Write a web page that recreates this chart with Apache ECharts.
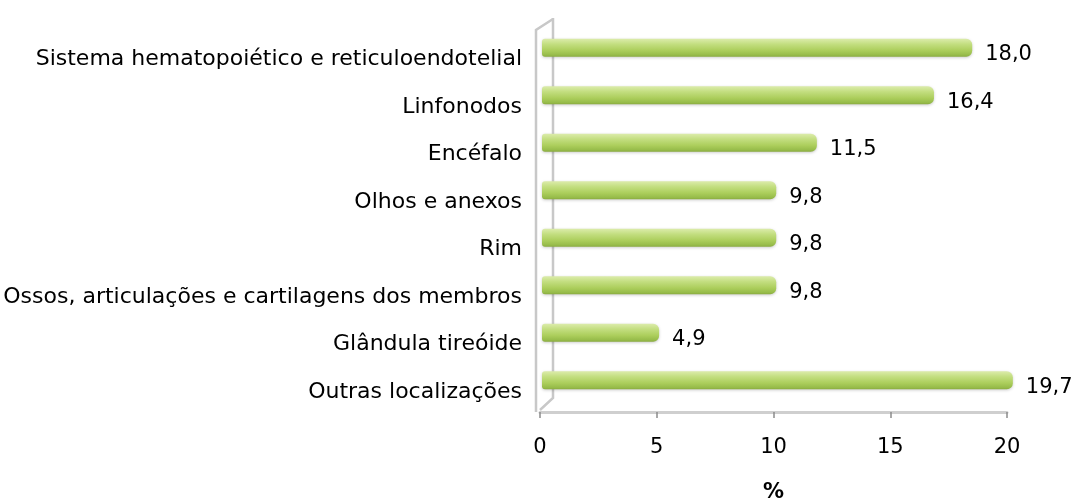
<!DOCTYPE html>
<html>
<head>
<meta charset="utf-8">
<script src="https://cdn.jsdelivr.net/npm/echarts@6/dist/echarts.min.js"></script>
<style>
  html, body { margin: 0; padding: 0; background: #fff; }
  #chart { width: 1074px; height: 499px; }
</style>
</head>
<body>
<div id="chart"></div>
<script>
var categories = [
  'Sistema hematopoiético e reticuloendotelial',
  'Linfonodos',
  'Encéfalo',
  'Olhos e anexos',
  'Rim',
  'Ossos, articulações e cartilagens dos membros',
  'Glândula tireóide',
  'Outras localizações'
]
var values = [18.0, 16.4, 11.5, 9.8, 9.8, 9.8, 4.9, 19.7]
var xTicks = [0, 5, 10, 15, 20]

// front plane (axes) and back plane (bars) of the fake 3d box
var front = { left: 540, top: 32, width: 467, height: 380 }
var back = { left: 542, top: 24, width: 478, height: 380 }
var labelShift = 4

var chart = echarts.init(document.getElementById('chart'))
var font = 'DejaVu Sans'
var fontSize = 21

function gridOf(r, dy) {
  return { left: r.left, top: r.top + (dy || 0), width: r.width, height: r.height, outerBoundsMode: 'none', containLabel: false }
}

var option = {
  animation: false,
  textStyle: { fontFamily: font },
  grid: [gridOf(front), gridOf(back), gridOf(front, labelShift)],
  xAxis: [
    {
      gridIndex: 0,
      type: 'value',
      min: xTicks[0],
      max: xTicks[xTicks.length - 1],
      interval: 5,
      name: '%',
      nameLocation: 'middle',
      nameGap: 70,
      nameTextStyle: { fontSize: fontSize, fontWeight: 'bold', color: '#000', fontFamily: font },
      axisLine: { show: true, lineStyle: { color: '#cfcfcf', width: 3 } },
      axisTick: { show: true, length: 6, lineStyle: { color: '#8c8c8c', width: 1.5 } },
      axisLabel: { fontSize: fontSize, color: '#000', margin: 25, fontFamily: font },
      splitLine: { show: false }
    },
    { gridIndex: 1, type: 'value', min: xTicks[0], max: xTicks[xTicks.length - 1], show: false },
    { gridIndex: 2, type: 'value', min: xTicks[0], max: xTicks[xTicks.length - 1], show: false }
  ],
  yAxis: [
    { gridIndex: 0, type: 'category', inverse: true, data: categories, show: false },
    { gridIndex: 1, type: 'category', inverse: true, data: categories, show: false },
    {
      gridIndex: 2,
      type: 'category',
      inverse: true,
      data: categories,
      axisLine: { show: false },
      axisTick: { show: false },
      axisLabel: { fontSize: 22, color: '#000', margin: 18, fontFamily: font }
    }
  ],
  series: [
    {
      type: 'bar',
      xAxisIndex: 1,
      yAxisIndex: 1,
      z: 5,
      data: values,
      barWidth: 18,
      itemStyle: {
        borderRadius: [3, 6, 6, 3],
        color: new echarts.graphic.LinearGradient(0, 0, 0, 1, [
          { offset: 0, color: '#dcecab' },
          { offset: 0.3, color: '#c3de80' },
          { offset: 0.65, color: '#acce5c' },
          { offset: 0.9, color: '#97bc4a' },
          { offset: 1, color: '#8aab40' }
        ]),
        shadowColor: 'rgba(0,0,0,0.2)',
        shadowBlur: 3,
        shadowOffsetY: 1
      },
      label: {
        show: true,
        position: 'right',
        distance: 13,
        fontSize: fontSize,
        fontFamily: font,
        color: '#000',
        offset: [0, 7],
        formatter: function (p) {
          return p.value.toFixed(1).replace('.', ',')
        }
      }
    }
  ]
}
chart.setOption(option)

// side wall of the 3d box
var x0 = chart.convertToPixel({ xAxisIndex: 0 }, 0)
var yTop = front.top
var yBot = front.top + front.height
var wall = { color: '#c8c8c8', width: 2.5 }
chart.setOption({
  graphic: [
    {
      type: 'polyline',
      z: 0,
      shape: { points: [[x0 - 4, yBot], [x0 - 4, yTop - 2], [x0 + 13, yTop - 13]] },
      style: { stroke: wall.color, lineWidth: wall.width, fill: null }
    },
    {
      type: 'polyline',
      z: 0,
      shape: { points: [[x0 + 13, yTop - 14], [x0 + 13, yBot - 14], [x0, yBot - 2]] },
      style: { stroke: wall.color, lineWidth: wall.width, fill: null }
    }
  ]
})
</script>
</body>
</html>
